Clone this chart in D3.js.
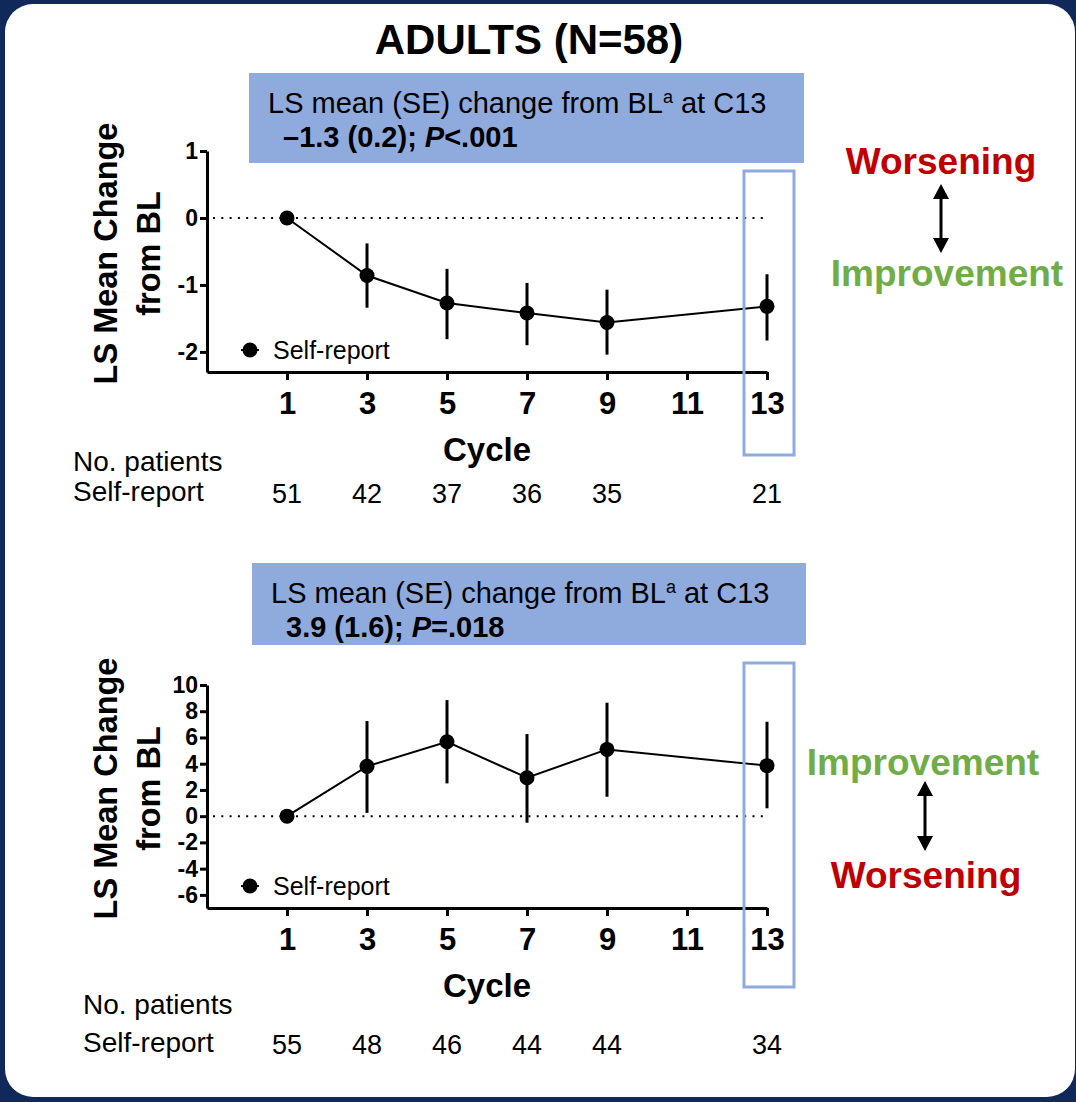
<!DOCTYPE html>
<html>
<head>
<meta charset="utf-8">
<script src="https://cdn.jsdelivr.net/npm/d3@7"></script>
<style>
  body { margin: 0; background: #10295a; }
  svg { display: block; }
</style>
</head>
<body>
<div id="chart"></div>
<script>
// cycles with an estimate, and the ticks on the x axis
const cycles = [1, 3, 5, 7, 9, 13];
const cycleTicks = [1, 3, 5, 7, 9, 11, 13];

// top panel: LS mean change from BL with error bar ends
const topMean = [0, -0.86, -1.27, -1.42, -1.56, -1.32];
const topLow  = [0, -1.34, -1.81, -1.90, -2.04, -1.83];
const topHigh = [0, -0.38, -0.76, -0.97, -1.07, -0.84];
const topTicks = [-2, -1, 0, 1];
const topPatients = [51, 42, 37, 36, 35, 21];

// bottom panel
const botMean = [0, 3.80, 5.67, 2.93, 5.09, 3.85];
const botLow  = [0, 0.25, 2.50, -0.50, 1.48, 0.60];
const botHigh = [0, 7.25, 8.85, 6.26, 8.65, 7.20];
const botTicks = [-6, -4, -2, 0, 2, 4, 6, 8, 10];
const botPatients = [55, 48, 46, 44, 44, 34];

const FONT = "'Liberation Sans', Arial, Helvetica, sans-serif";
const BLUE = "#8faadc";
const RED = "#c00000";
const GREEN = "#70ad47";

var svg = d3.select("#chart")
  .append("svg")
  .attr("width", 1076)
  .attr("height", 1102)
  .style("font-family", FONT);

// white card on the navy background
svg.append("rect")
  .attr("x", 5).attr("y", 4)
  .attr("width", 1070).attr("height", 1093)
  .attr("rx", 28)
  .attr("fill", "#fff");

svg.append("text")
  .attr("x", 529).attr("y", 54)
  .attr("text-anchor", "middle")
  .style("font-size", "42px").style("font-weight", "bold")
  .text("ADULTS (N=58)");

var x = d3.scaleLinear().domain([-1, 13]).range([207, 767]);

function drawPanel(p) {
  var y = d3.scaleLinear().domain(p.yDomain).range(p.yRange);
  var g = svg.append("g");

  // stats box
  g.append("rect")
    .attr("x", p.box[0]).attr("y", p.box[1])
    .attr("width", p.box[2]).attr("height", p.box[3])
    .attr("fill", BLUE);
  var t1 = g.append("text")
    .attr("x", p.box[0] + 19).attr("y", p.box[1] + 40)
    .style("font-size", "29px");
  t1.append("tspan").text("LS mean (SE) change from BL");
  t1.append("tspan").attr("dy", -10).style("font-size", "18px").text("a");
  t1.append("tspan").attr("dy", 10).text(" at C13");
  var t2 = g.append("text")
    .attr("x", p.box[0] + 34).attr("y", p.box[1] + 74)
    .style("font-size", "29px").style("font-weight", "bold");
  t2.append("tspan").text(p.stat[0]);
  t2.append("tspan").style("font-style", "italic").text("P");
  t2.append("tspan").text(p.stat[1]);

  // y axis title
  var cy = (p.yRange[0] + p.yRange[1]) / 2 - 8;
  [["LS Mean Change", 105], ["from BL", 148]].forEach(function (d) {
    g.append("text")
      .attr("transform", "translate(" + d[1] + "," + cy + ") rotate(-90)")
      .attr("text-anchor", "middle")
      .attr("dy", "0.36em")
      .style("font-size", "32.5px").style("font-weight", "bold")
      .text(d[0]);
  });

  // axes
  var yAxis = g.append("g")
    .attr("transform", "translate(" + x.range()[0] + ",0)")
    .call(d3.axisLeft(y).tickValues(p.yTicks).tickSize(7).tickSizeOuter(0)
      .tickPadding(2).tickFormat(function (d) { return String(d); }));
  var xAxis = g.append("g")
    .attr("transform", "translate(0," + p.yRange[0] + ")")
    .call(d3.axisBottom(x).tickValues(cycleTicks).tickSize(8).tickSizeOuter(0)
      .tickPadding(12));
  [yAxis, xAxis].forEach(function (a) {
    a.attr("font-family", null).attr("font-size", null);
    a.selectAll("path, line").attr("stroke", "#000").attr("stroke-width", 3);
    a.selectAll("text").style("font-weight", "bold").attr("fill", "#000");
  });
  yAxis.selectAll("text").style("font-size", "23px");
  xAxis.selectAll("text").style("font-size", "31px");

  g.append("text")
    .attr("x", 487).attr("y", p.yRange[0] + 89)
    .attr("text-anchor", "middle")
    .style("font-size", "33px").style("font-weight", "bold")
    .text("Cycle");

  // dotted zero line
  g.append("line")
    .attr("x1", x.range()[0] + 6).attr("x2", x(13) - 4)
    .attr("y1", y(0)).attr("y2", y(0))
    .attr("stroke", "#000").attr("stroke-width", 2)
    .attr("stroke-dasharray", "2,6.3");

  // error bars
  g.selectAll(".err")
    .data(cycles)
    .enter()
    .append("line")
      .attr("x1", function (d) { return x(d); })
      .attr("x2", function (d) { return x(d); })
      .attr("y1", function (d, i) { return y(p.low[i]); })
      .attr("y2", function (d, i) { return y(p.high[i]); })
      .attr("stroke", "#000").attr("stroke-width", 3);

  var line = d3.line()
    .x(function (d) { return x(d); })
    .y(function (d, i) { return y(p.mean[i]); });
  g.append("path")
    .datum(cycles)
    .attr("d", line)
    .attr("fill", "none").attr("stroke", "#000").attr("stroke-width", 2);

  g.selectAll(".pt")
    .data(cycles)
    .enter()
    .append("circle")
      .attr("cx", function (d) { return x(d); })
      .attr("cy", function (d, i) { return y(p.mean[i]); })
      .attr("r", 7.5)
      .attr("fill", "#000");

  // legend
  g.append("line")
    .attr("x1", 241).attr("x2", 259)
    .attr("y1", p.legendY).attr("y2", p.legendY)
    .attr("stroke", "#000").attr("stroke-width", 2);
  g.append("circle").attr("cx", 250).attr("cy", p.legendY).attr("r", 7.5);
  g.append("text")
    .attr("x", 273).attr("y", p.legendY + 9)
    .style("font-size", "25px")
    .text("Self-report");

  // C13 highlight
  g.append("rect")
    .attr("x", x(13) - 23).attr("y", p.hiY[0])
    .attr("width", 50).attr("height", p.hiY[1] - p.hiY[0])
    .attr("fill", "none").attr("stroke", BLUE).attr("stroke-width", 3);

  // patient counts
  g.append("text")
    .attr("x", p.rowX).attr("y", p.rowY[0])
    .style("font-size", "28px").text("No. patients");
  g.append("text")
    .attr("x", p.rowX).attr("y", p.rowY[1])
    .style("font-size", "28px").text("Self-report");
  g.selectAll(".n")
    .data(cycles)
    .enter()
    .append("text")
      .attr("x", function (d) { return x(d); })
      .attr("y", p.rowY[1] + 2)
      .attr("text-anchor", "middle")
      .style("font-size", "27px")
      .text(function (d, i) { return p.patients[i]; });

  // direction labels
  p.dir.forEach(function (d) {
    g.append("text")
      .attr("x", d.x).attr("y", d.y)
      .attr("text-anchor", "middle")
      .style("font-size", "37px").style("font-weight", "bold")
      .attr("fill", d.c)
      .text(d.t);
  });
  var ax = p.arrow[0], a0 = p.arrow[1], a1 = p.arrow[2];
  g.append("line")
    .attr("x1", ax).attr("x2", ax).attr("y1", a0 + 10).attr("y2", a1 - 10)
    .attr("stroke", "#000").attr("stroke-width", 3);
  g.append("path")
    .attr("d", "M" + ax + "," + a0 + "l-8,15h16z M" + ax + "," + a1 + "l-8,-15h16z")
    .attr("fill", "#000");
}

drawPanel({
  yDomain: [-2.3, 1], yRange: [372, 151], yTicks: topTicks,
  mean: topMean, low: topLow, high: topHigh, patients: topPatients,
  box: [249, 73, 555, 90], stat: ["\u20131.3 (0.2); ", "<.001"],
  legendY: 350, hiY: [171, 455],
  rowX: 73, rowY: [471, 501],
  dir: [{ t: "Worsening", x: 941, y: 174, c: RED },
        { t: "Improvement", x: 947, y: 286, c: GREEN }],
  arrow: [941, 184, 253]
});

drawPanel({
  yDomain: [-7, 10], yRange: [908, 685], yTicks: botTicks,
  mean: botMean, low: botLow, high: botHigh, patients: botPatients,
  box: [252, 563, 554, 82], stat: ["3.9 (1.6); ", "=.018"],
  legendY: 886, hiY: [663, 987],
  rowX: 83, rowY: [1014, 1052],
  dir: [{ t: "Improvement", x: 923, y: 775, c: GREEN },
        { t: "Worsening", x: 926, y: 888, c: RED }],
  arrow: [925, 781, 851]
});
</script>
</body>
</html>
